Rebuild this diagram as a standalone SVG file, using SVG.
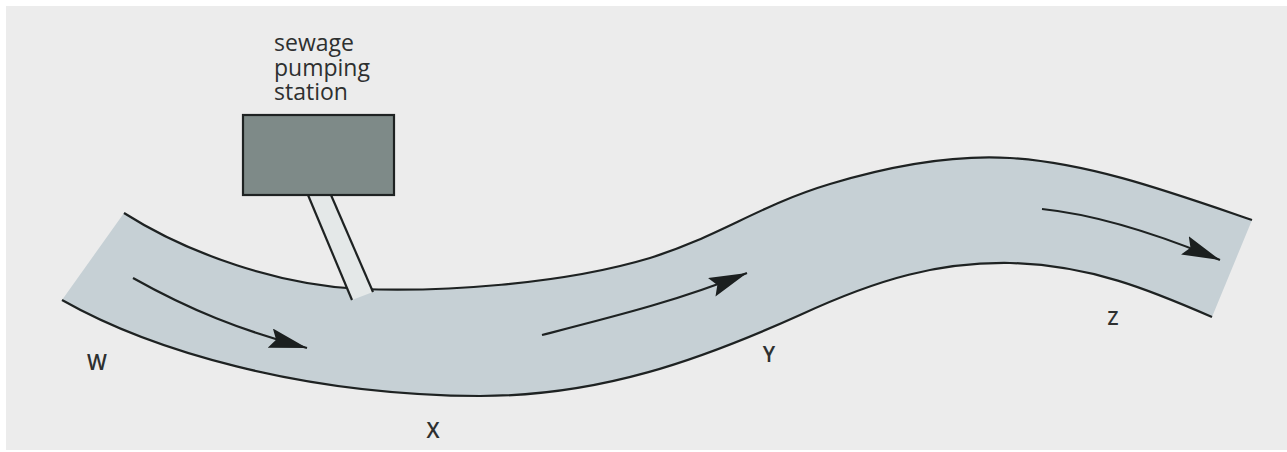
<svg xmlns="http://www.w3.org/2000/svg" width="1287" height="452" viewBox="0 0 1287 452">
<style>
.bank{fill:none;stroke:#1e2222;stroke-width:2.2}
.flow{fill:none;stroke:#1e2222;stroke-width:2.2}
.lbl{font-family:"Open Sans","Noto Sans",sans-serif;fill:#2e3030}
.cap{font-weight:600;text-anchor:middle}
</style>
<defs>
<marker id="ah" markerUnits="userSpaceOnUse" markerWidth="40" markerHeight="22" refX="38" refY="10" orient="auto">
<path d="M0,0 L38,10 L0,20 L6,10 Z" fill="#1b1f1f"/>
</marker>
</defs>
<rect width="1287" height="452" fill="#ffffff"/>
<rect x="6" y="6" width="1281" height="444" fill="#ececec"/>
<g id="river">
<path d="M124,213 C190,255 280,285 360,289 C440,292 560,285 650,258 C720,236 760,205 830,184 C900,163 960,155 1010,158 C1090,163 1170,192 1252,220 L1212,317 C1150,290 1090,265 1010,263 C940,262 880,278 800,315 C700,360 600,396 480,396 C300,395 150,350 62,300 Z" fill="#c6d0d5"/>
<path class="bank" d="M124,213 C190,255 280,285 360,289 C440,292 560,285 650,258 C720,236 760,205 830,184 C900,163 960,155 1010,158 C1090,163 1170,192 1252,220"/>
<path class="bank" d="M62,300 C150,350 300,395 480,396 C600,396 700,360 800,315 C880,278 940,262 1010,263 C1090,265 1150,290 1212,317"/>
</g>
<g id="pumping-station">
<polygon points="308,195 331,195 373,292 352,300" fill="#e4e8e8"/>
<line class="bank" x1="308" y1="195" x2="352" y2="300"/>
<line class="bank" x1="331" y1="195" x2="373" y2="292"/>
<rect x="243" y="115" width="151" height="80" fill="#7e8a88" stroke="#1e2222" stroke-width="2.2"/>
<text class="lbl" x="274" y="51" font-size="23" font-weight="500">sewage</text>
<text class="lbl" x="274" y="76" font-size="23" font-weight="500">pumping</text>
<text class="lbl" x="274" y="100" font-size="23" font-weight="500">station</text>
</g>
<g id="connectors">
<path class="flow" d="M133,278 C190,310 240,330 307,348" marker-end="url(#ah)"/>
<path class="flow" d="M542,335 C620,315 680,300 747,273" marker-end="url(#ah)"/>
<path class="flow" d="M1042,209 C1100,215 1160,235 1220,260" marker-end="url(#ah)"/>
</g>
<g id="labels">
<text class="lbl cap" x="97" y="370" font-size="21">W</text>
<text class="lbl cap" x="433" y="438" font-size="21">X</text>
<text class="lbl cap" x="769" y="362" font-size="21">Y</text>
<text class="lbl cap" x="1113" y="325" font-size="19">Z</text>
</g>
</svg>
